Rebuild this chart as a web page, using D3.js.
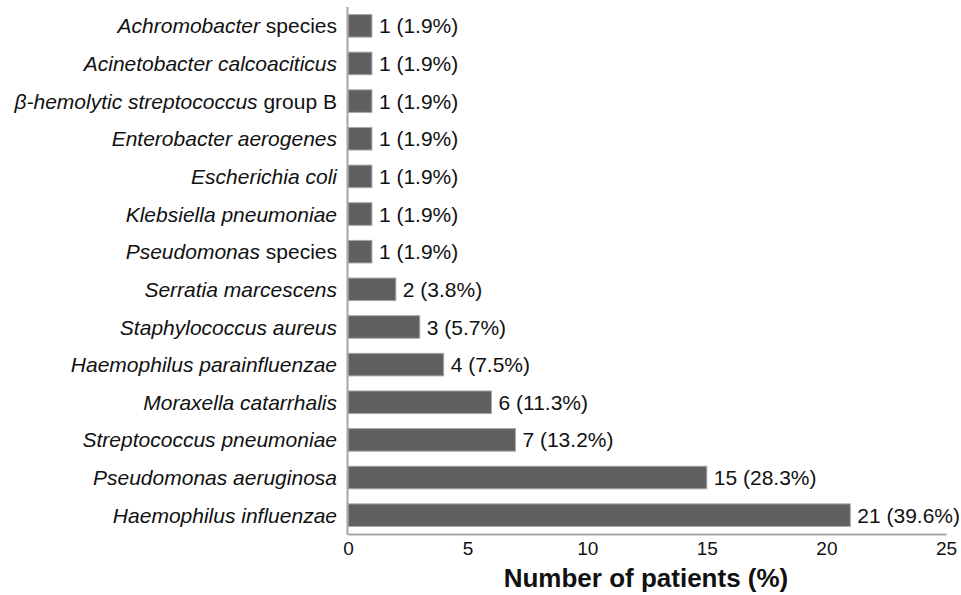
<!DOCTYPE html>
<html><head><meta charset="utf-8">
<script src="https://cdn.jsdelivr.net/npm/d3@7"></script>
<style>body{margin:0;background:#fff;} text{font-family:"Liberation Sans",Arial,sans-serif;}</style>
</head><body>
<svg id="c" width="961" height="595"></svg>
<script>
// category labels: italic part + normal part
const categoryItalic = ["Achromobacter","Acinetobacter calcoaciticus","β-hemolytic streptococcus","Enterobacter aerogenes","Escherichia coli","Klebsiella pneumoniae","Pseudomonas","Serratia marcescens","Staphylococcus aureus","Haemophilus parainfluenzae","Moraxella catarrhalis","Streptococcus pneumoniae","Pseudomonas aeruginosa","Haemophilus influenzae"];
const categoryNormal = [" species",""," group B","","","",""+" species","","","","","","",""];
const counts = [1,1,1,1,1,1,1,2,3,4,6,7,15,21];
const percents = ["1.9","1.9","1.9","1.9","1.9","1.9","1.9","3.8","5.7","7.5","11.3","13.2","28.3","39.6"];
const xTicks = [0,5,10,15,20,25];
const xTitle = "Number of patients (%)";

const svg = d3.select("#c");
const FF = "Liberation Sans, Arial, sans-serif";
const x = d3.scaleLinear().domain([0,25]).range([348, 946]);
const y = d3.scaleBand().domain(d3.range(counts.length)).range([7, 534]).paddingInner(0.4).paddingOuter(0.2);

// bars
svg.append("g").selectAll("rect").data(counts).join("rect")
  .attr("x", x(0)).attr("y", (d,i)=>y(i))
  .attr("width", d=>x(d)-x(0)).attr("height", y.bandwidth())
  .attr("fill","#606060").attr("stroke","#a8a8a8").attr("stroke-width",1);

// value labels
svg.append("g").selectAll("text").data(counts).join("text")
  .attr("x", d=>x(d)+7).attr("y",(d,i)=>y(i)+y.bandwidth()/2)
  .attr("dy","0.36em").attr("font-size",21).attr("fill","#111").attr("font-family",FF)
  .text((d,i)=>`${d} (${percents[i]}%)`);

// category labels
const cl = svg.append("g").selectAll("text").data(counts).join("text")
  .attr("x", 337).attr("y",(d,i)=>y(i)+y.bandwidth()/2)
  .attr("dy","0.36em").attr("text-anchor","end").attr("font-size",21).attr("fill","#111").attr("font-family",FF);
cl.append("tspan").attr("font-style","italic").text((d,i)=>categoryItalic[i]);
cl.append("tspan").text((d,i)=>categoryNormal[i]);

// x axis
const xa = svg.append("g").attr("transform","translate(0,534)")
  .call(d3.axisBottom(x).tickValues(xTicks).tickSize(0).tickPadding(8));
xa.select(".domain").attr("stroke","#a6a6a6").attr("stroke-width",2);
xa.selectAll("text").attr("font-size",19).attr("fill","#111").attr("font-family",FF);

// y axis line
svg.append("line").attr("x1",x(0)-0.5).attr("x2",x(0)-0.5).attr("y1",7).attr("y2",535)
  .attr("stroke","#a6a6a6").attr("stroke-width",2);

// title
svg.append("text").attr("x",646).attr("y",587).attr("text-anchor","middle")
  .attr("font-size",26).attr("font-weight","bold").attr("fill","#111").attr("font-family",FF).text(xTitle);
</script>
</body></html>
